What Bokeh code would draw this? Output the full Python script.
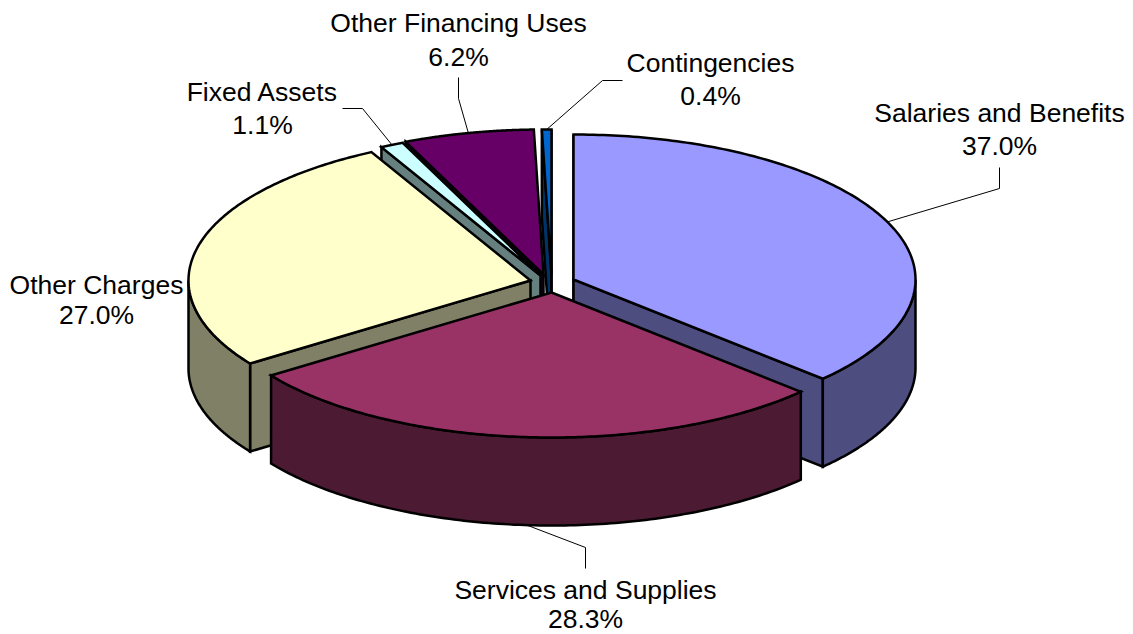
import numpy as np
from bokeh.plotting import figure
from bokeh.models import Range1d
from bokeh.core.properties import value
from bokeh.embed import file_html
from bokeh.resources import INLINE

# --- data ---
categories = ["Salaries and Benefits", "Services and Supplies", "Other Charges",
              "Fixed Assets", "Other Financing Uses", "Contingencies"]
percent_labels = ["37.0%", "28.3%", "27.0%", "1.1%", "6.2%", "0.4%"]
shares = [37.0, 28.3, 27.0, 1.1, 6.15, 0.45]

# --- style ---
top_colors = ["#9999FF", "#993366", "#FFFFCC", "#CCFFFF", "#660066", "#0066CC"]
side_colors = ["#4D4D80", "#4D1A33", "#808066", "#668080", "#330033", "#003366"]

# --- layout (page pixels) ---
RX, RY, DEPTH = 342, 145, 88
centers = [(573, 279), (551, 292), (530, 280), (540, 275), (543, 274), (551, 274)]
draw_order = [5, 4, 3, 2, 0, 1]
label_pos = [(999, 112, 145), (585, 589, 618), (96, 284, 314),
             (262, 91, 124), (458, 22, 56), (710, 62, 95)]
leader_paths = [[(999, 188), (999, 167)], [(585, 547), (585, 568)], None,
                [(362, 108), (342, 108)], [(458, 98), (458, 77)], [(602, 80), (622, 80)]]
leader_bottom = [False, True, False, False, False, False]

p = figure(width=1133, height=634, output_backend="svg", toolbar_location=None,
           x_range=Range1d(0, 1133), y_range=Range1d(634, 0), min_border=0,
           outline_line_color=None, background_fill_color="white")
p.axis.visible = False
p.grid.visible = False

edges = np.concatenate([[0], np.cumsum(shares)]) / sum(shares) * 2 * np.pi


def pt(c, a, dz=0):
    return c[0] + RX * np.sin(a), c[1] - RY * np.cos(a) + dz


def poly(xs, ys, color):
    p.patch(list(xs), list(ys), fill_color=color, line_color="black", line_width=2.5,
            line_join="miter")


for i in draw_order:
    c = centers[i]
    a0, a1 = edges[i], edges[i + 1]
    # cut faces
    for a, visible in ((a0, np.sin(a0) <= 1e-9), (a1, np.sin(a1) >= -1e-9)):
        if visible:
            ex, ey = pt(c, a)
            poly([c[0], ex, ex, c[0]], [c[1], ey, ey + DEPTH, c[1] + DEPTH], side_colors[i])
    # outer wall (front half only)
    f0, f1 = max(a0, np.pi / 2), min(a1, 3 * np.pi / 2)
    if f1 > f0:
        t = np.linspace(f0, f1, 120)
        x, y = pt(c, t)
        poly(np.r_[x, x[::-1]], np.r_[y, (y + DEPTH)[::-1]], side_colors[i])
    # top face
    t = np.linspace(a0, a1, 160)
    x, y = pt(c, t)
    poly(np.r_[c[0], x], np.r_[c[1], y], top_colors[i])

# leader lines start on the slice's outer rim
for i, path in enumerate(leader_paths):
    if path is None:
        continue
    mid = (edges[i] + edges[i + 1]) / 2
    ax, ay = pt(centers[i], mid, DEPTH if leader_bottom[i] else 0)
    xs = [ax] + [q[0] for q in path]
    ys = [ay] + [q[1] for q in path]
    p.line(xs, ys, line_color="black", line_width=1)

lx, ly, lt = [], [], []
for i, (x, y1, y2) in enumerate(label_pos):
    lx += [x, x]
    ly += [y1, y2]
    lt += [categories[i], percent_labels[i]]
p.text(lx, ly, text=lt, text_font=value("Liberation Sans"), text_font_size="26.5px",
       text_align="center", text_baseline="middle", text_color="black")

open("out.html", "w").write(file_html(p, INLINE))
